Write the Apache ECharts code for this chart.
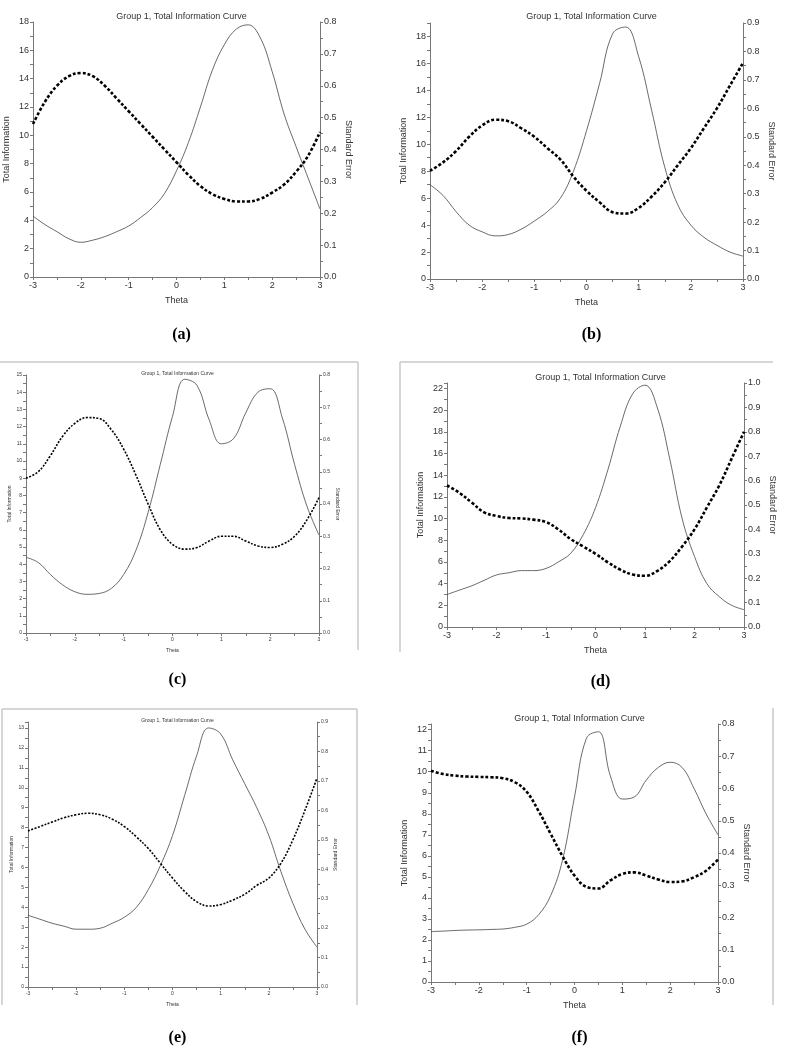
<!DOCTYPE html>
<html><head><meta charset="utf-8">
<script src="https://cdn.jsdelivr.net/npm/echarts@6/dist/echarts.min.js"></script>
<style>html,body{margin:0;padding:0;background:#fff}#c{width:791px;height:1050px}</style>
</head><body><div id="c"></div>
<script>
const theta = [-3,-2.75,-2.5,-2.25,-2,-1.75,-1.5,-1.25,-1,-0.75,-0.5,-0.25,0,0.25,0.5,0.75,1,1.25,1.5,1.75,2,2.25,2.5,2.75,3];
const thetaTicks = [-3,-2,-1,0,1,2,3];
const infoA = [4.3,3.7,3.2,2.7,2.45,2.6,2.85,3.2,3.6,4.2,4.9,5.9,7.5,9.5,12,14.6,16.4,17.5,17.8,16.9,14.5,11.5,9.2,7.0,4.8];
const seA = [0.48,0.55,0.6,0.63,0.64,0.63,0.6,0.56,0.52,0.48,0.44,0.40,0.36,0.32,0.285,0.26,0.245,0.237,0.237,0.245,0.265,0.29,0.33,0.38,0.455];
const infoB = [7,6.2,5,4,3.5,3.2,3.3,3.7,4.3,5.0,6.0,8,11,14.5,18.2,18.7,16.5,12.5,8.3,5.5,4,3.1,2.5,2,1.7];
const seB = [0.38,0.41,0.45,0.5,0.54,0.56,0.555,0.53,0.5,0.46,0.42,0.36,0.31,0.27,0.235,0.23,0.25,0.29,0.34,0.4,0.46,0.53,0.6,0.68,0.76];
const infoC = [4.4,4.1,3.4,2.8,2.4,2.25,2.3,2.6,3.4,4.8,7,9.8,12.6,14.75,14.4,12.4,11,11.3,12.8,14,14.2,12.5,9.8,7.4,5.7];
const seC = [0.48,0.5,0.55,0.61,0.65,0.668,0.665,0.63,0.57,0.49,0.4,0.32,0.275,0.26,0.265,0.285,0.3,0.3,0.285,0.27,0.265,0.275,0.3,0.35,0.42];
const infoD = [3,3.4,3.8,4.3,4.8,5.0,5.2,5.2,5.4,6,6.8,8.5,11,14.5,18.5,21.5,22.3,20.2,15.5,10,6.5,4,2.8,2,1.6];
const seD = [0.58,0.55,0.51,0.47,0.455,0.447,0.445,0.44,0.43,0.4,0.36,0.33,0.3,0.265,0.235,0.215,0.21,0.23,0.27,0.33,0.4,0.49,0.58,0.69,0.8];
const infoE = [3.6,3.4,3.2,3.05,2.9,2.9,2.95,3.2,3.5,4,4.9,6.1,7.6,9.6,11.6,13.0,12.7,11.4,10.2,9,7.6,5.8,4.2,2.9,2.0];
const seE = [0.53,0.545,0.56,0.575,0.585,0.59,0.585,0.57,0.545,0.51,0.47,0.42,0.37,0.325,0.29,0.275,0.28,0.295,0.315,0.345,0.37,0.42,0.5,0.6,0.71];
const infoF = [2.4,2.42,2.45,2.47,2.48,2.5,2.52,2.6,2.75,3.2,4.1,5.8,8.8,11.6,11.9,9.8,8.7,8.8,9.6,10.2,10.45,10.2,9.2,8,7];
const seF = [0.655,0.645,0.64,0.637,0.636,0.635,0.632,0.62,0.59,0.53,0.46,0.39,0.33,0.295,0.29,0.315,0.335,0.34,0.33,0.318,0.31,0.312,0.325,0.345,0.38];
const captions = ['(a)','(b)','(c)','(d)','(e)','(f)'];
const titleText = 'Group 1, Total Information Curve';

const panels = [
 {info:infoA,se:seA,l:33,r:320,t:22,b:277,lmax:18,li:2,rmax:0.8,fs:9,ty:7,cy:322,rot:-90},
 {info:infoB,se:seB,l:430,r:743,t:23,b:279,lmax:19,li:2,rmax:0.9,fs:9,ty:7,cy:322,rot:-90},
 {info:infoC,se:seC,l:26,r:319,t:375,b:633,lmax:15,li:1,rmax:0.8,fs:5,ty:366,cy:667,rot:-90},
 {info:infoD,se:seD,l:447,r:744,t:383,b:627,lmax:22.5,li:2,rmax:1.0,fs:9,ty:368,cy:669,rot:-90},
 {info:infoE,se:seE,l:28,r:317,t:722,b:987,lmax:13.3,li:1,rmax:0.9,fs:5,ty:713,cy:1025,rot:90},
 {info:infoF,se:seF,l:431,r:718,t:724,b:982,lmax:12.27,li:1,rmax:0.8,fs:9,ty:709,cy:1025,rot:-90}
];
const grid=[],xAxis=[],yAxis=[],series=[],title=[];
const axC='#777', txC='#333';
panels.forEach((p,i)=>{
  grid.push({left:p.l,top:p.t,width:p.r-p.l,height:p.b-p.t});
  const cx=(p.l+p.r)/2;
  title.push({text:titleText,left:cx,top:p.ty,textAlign:'center',textStyle:{fontSize:p.fs,fontWeight:'normal',color:txC,fontFamily:'Liberation Sans'}});
  title.push({text:captions[i],left:cx,top:p.cy,textAlign:'center',textStyle:{fontSize:16,fontWeight:'bold',color:'#000',fontFamily:'Liberation Serif'}});
  const lineS={lineStyle:{color:axC,width:1}};
  xAxis.push({gridIndex:i,type:'value',min:-3,max:3,interval:1,name:'Theta',nameLocation:'middle',nameGap:p.fs+10,
    nameTextStyle:{fontSize:p.fs,color:txC,fontFamily:'Liberation Sans'},
    axisLine:{show:true,onZero:false,...lineS},axisTick:{show:true,length:3,...lineS},minorTick:{show:true,splitNumber:2,length:3,...lineS},
    splitLine:{show:false},axisLabel:{fontSize:p.fs,color:txC,margin:4,fontFamily:'Liberation Sans'}});
  yAxis.push({gridIndex:i,type:'value',min:0,max:p.lmax,interval:p.li,position:'left',name:'Total Information',nameLocation:'middle',nameGap:p.fs*2+4,
    nameTextStyle:{fontSize:p.fs,color:txC,fontFamily:'Liberation Sans'},
    axisLine:{show:true,onZero:false,...lineS},axisTick:{show:true,length:3,...lineS},minorTick:{show:true,splitNumber:2,length:3,...lineS},
    splitLine:{show:false},axisLabel:{fontSize:p.fs,color:txC,margin:4,showMaxLabel:p.lmax%p.li===0,fontFamily:'Liberation Sans'}});
  yAxis.push({gridIndex:i,type:'value',min:0,max:p.rmax,interval:0.1,position:'right',name:'Standard Error',nameLocation:'middle',nameGap:p.fs*2+6,nameRotate:p.rot,
    nameTextStyle:{fontSize:p.fs,color:txC,fontFamily:'Liberation Sans'},
    axisLine:{show:true,onZero:false,...lineS},axisTick:{show:true,length:3,...lineS},minorTick:{show:true,splitNumber:2,length:3,...lineS},
    splitLine:{show:false},axisLabel:{fontSize:p.fs,color:txC,margin:4,formatter:v=>v.toFixed(1),fontFamily:'Liberation Sans'}});
  series.push({type:'line',xAxisIndex:i,yAxisIndex:2*i,smooth:0.4,symbol:'none',data:theta.map((t,k)=>[t,p.info[k]]),lineStyle:{color:'#444',width:0.8}});
  series.push({type:'line',xAxisIndex:i,yAxisIndex:2*i+1,smooth:0.4,symbol:'none',data:theta.map((t,k)=>[t,p.se[k]]),lineStyle:{color:'#000',width:p.fs<8?1.6:2.6,type:p.fs<8?[2,1.5]:[3,2]}});
});
const fr={stroke:'#c8c8c8',lineWidth:1.5};
const L=(x1,y1,x2,y2)=>({type:'line',shape:{x1,y1,x2,y2},style:fr,silent:true});
const graphic=[
  L(0,362,358,362),L(358,362,358,650),
  L(400,362,773,362),L(400,362,400,652),
  L(2,709,357,709),L(2,709,2,1005),L(357,709,357,1005),
  L(773,708,773,1005)
];
const chart=echarts.init(document.getElementById('c'),null,{renderer:'canvas'});
chart.setOption({animation:false,backgroundColor:'#fff',title,grid,xAxis,yAxis,series,graphic});
</script></body></html>
